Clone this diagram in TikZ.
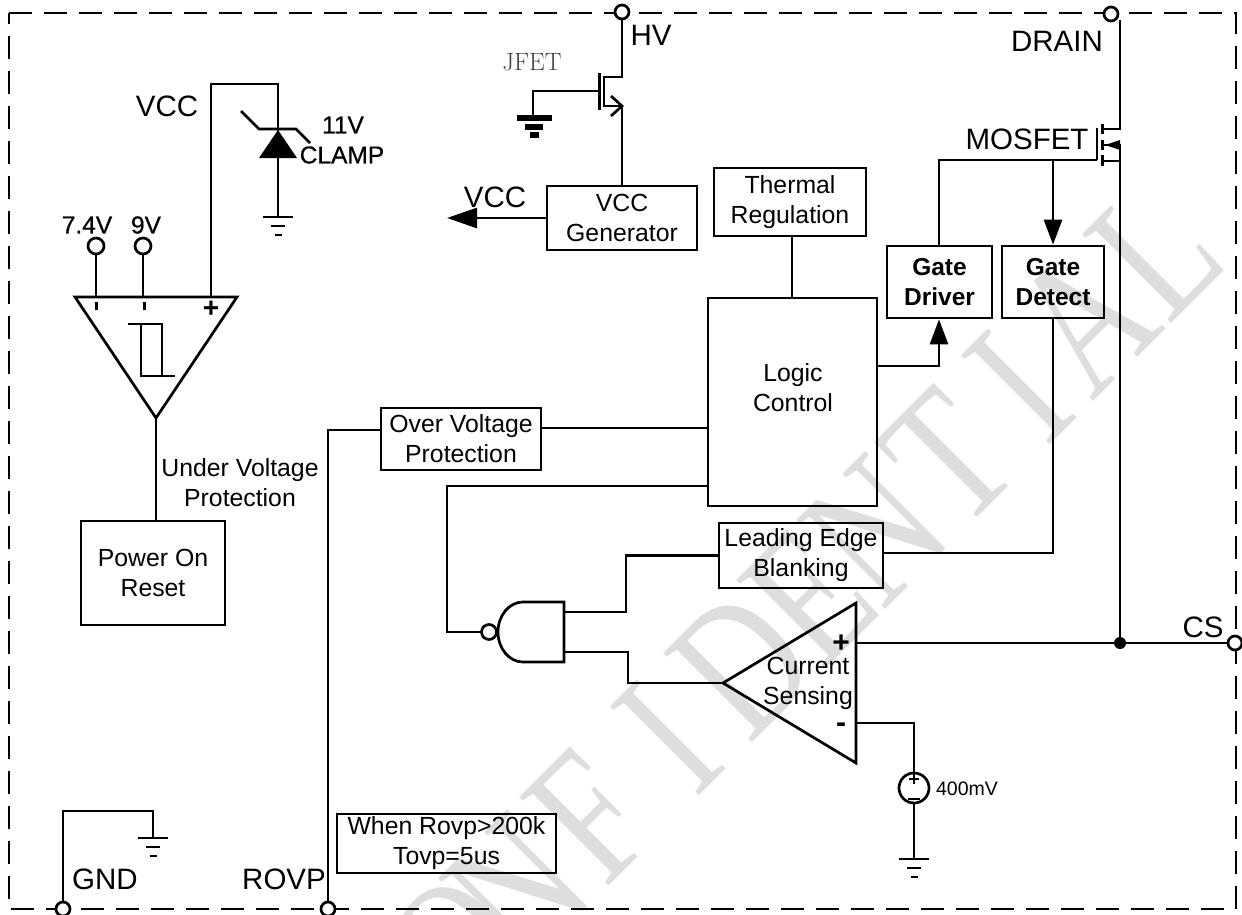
\documentclass[tikz,border=0pt]{standalone}
\usepackage{fontspec}
\setmainfont{Liberation Sans}
\newfontfamily\markfont{Liberation Serif}
\newfontfamily\lmfont{Latin Modern Roman}
\newfontfamily\halffont[FakeBold=0.6]{Liberation Sans}
\usetikzlibrary{arrows.meta}
\definecolor{markgray}{HTML}{DEDEDE}
\begin{document}
\begin{tikzpicture}[x=1pt, y=-1pt, line join=miter, line width=2.7pt, >={Triangle[length=25pt,width=18pt]},
	blockbox/.style={draw, align=center, inner sep=0pt, font=\fontsize{24.8}{30}\selectfont},
	boldbox/.style={blockbox, font=\fontsize{24.5}{30}\selectfont\bfseries},
	lbl/.style={inner sep=0pt, font=\fontsize{29.5}{32}\selectfont},
	halflbl/.style={inner sep=0pt, font=\halffont\fontsize{24.5}{30}\selectfont},
	midlbl/.style={inner sep=0pt, align=center, font=\fontsize{24.8}{30}\selectfont},
	marklbl/.style={text=markgray, anchor=base, rotate=45, xscale=.76, inner sep=0pt, font=\markfont\fontsize{192}{195}\selectfont},
	pin/.style={draw, circle, fill=white, inner sep=0pt, minimum size=14pt}]
	\useasboundingbox (0,0) rectangle (1242,915);
	% watermark
	\foreach \c/\u in {C/-450,O/-345,N/-262,F/-160,I/-49,D/55,E/150,N/243,T/347,I/447,A/540,L/640}
		\node[marklbl] (mark\u) at ({747.5+\u*.7071},{747.5-\u*.7071}) {\c};
	% frame
	\draw[dash pattern=on 23pt off 12pt] (9,13)--(1236,13)--(1236,909)--(9,909)--cycle;
	% blocks
	\node[blockbox, minimum width=144pt, minimum height=104pt] (por) at (153,573) {Power On\\Reset};
	\node[blockbox, minimum width=160pt, minimum height=62pt] (ovp) at (461,439) {Over Voltage\\Protection};
	\node[draw, minimum width=169pt, minimum height=208pt] (logic) at (792.5,402) {};
	\node[midlbl] (logict) at (793,388) {Logic\\Control};
	\node[blockbox, minimum width=152pt, minimum height=68pt] (thermal) at (790,202) {Thermal\\Regulation};
	\node[blockbox, minimum width=150pt, minimum height=64pt] (vccgen) at (622,218) {VCC\\Generator};
	\node[blockbox, minimum width=164pt, minimum height=65pt] (leb) at (801,555.5) {Leading Edge\\Blanking};
	\node[blockbox, minimum width=219pt, minimum height=59pt] (note) at (446.5,843.5) {When Rovp>200k\\Tovp=5us};
	\node[boldbox, minimum width=105pt, minimum height=72pt] (gdrv) at (939.5,282) {Gate\\Driver};
	\node[boldbox, minimum width=102pt, minimum height=72pt] (gdet) at (1053,282) {Gate\\Detect};
	% pins
	\node[pin] (hv) at (622,12) {};
	\node[pin] (drain) at (1111,14) {};
	\node[pin] (cs) at (1235,643) {};
	\node[pin] (gnd) at (63,909) {};
	\node[pin] (rovp) at (328,909) {};
	\node[pin, minimum size=16pt] (pa) at (96,246) {};
	\node[pin, minimum size=16pt] (pb) at (143,246) {};
	% pin labels
	\node[lbl] (hvl) at (651,35) {HV};
	\node[lbl] (drainl) at (1057,41) {DRAIN};
	\node[lbl] (mosl) at (1027,139) {MOSFET};
	\node[lbl] (csl) at (1203,627) {CS};
	\node[lbl] (gndl) at (105,879) {GND};
	\node[lbl] (rovpl) at (284,879) {ROVP};
	\node[lbl] (vccl) at (167,106) {VCC};
	\node[lbl] (vccr) at (495,197) {VCC};
	\node[inner sep=0pt, text=black!75, font=\fontsize{25}{30}\selectfont\lmfont] (jfetl) at (532,62) {JFET};
	\node[halflbl] (al) at (87,225) {7.4V};
	\node[halflbl] (bl) at (146,225) {9V};
	\node[halflbl] (zl) at (343,125) {11V};
	\node[halflbl] (cl) at (342,155) {CLAMP};
	\node[midlbl] (uvl) at (240,483) {Under Voltage\\Protection};
	\node[midlbl] (sensl) at (808,683) {Current\\Sensing};
	\node[inner sep=0pt, font=\fontsize{19.5}{22}\selectfont] (mvl) at (967,789) {400mV};
	% corners
	\coordinate (ca) at (75,297); \coordinate (cb) at (237,297); \coordinate (cc) at (156,418);
	\coordinate (sa) at (723,683); \coordinate (sb) at (856,603); \coordinate (sc) at (856,763);
	\coordinate (j1) at (1120,643);
	\coordinate (g1) at (278,217); \coordinate (g2) at (153,838); \coordinate (g3) at (914,859);
	% comparator
	\draw (ca)--(cb)--(cc)--cycle;
	\draw[line width=3pt] (96,302)--(96,310) (144,302)--(144,310);
	\node[inner sep=0pt, font=\fontsize{28}{28}\selectfont\bfseries] (cplus) at (211,309) {+};
	\draw[line width=2pt] (128,324)--(162,324)--(162,376)--(175,376) (141,324)--(141,376)--(162,376);
	\draw (pa)--(96,297) (pb)--(143,297);
	\draw (211,297)--(211,84)--(278,84)--(g1);
	\draw (cc)--(cc|-por.north);
	% zener
	\fill (278,130)--(297,158)--(259,158)--cycle;
	\draw (241,111)--(259,129)--(296,129)--(310,143);
	% current sense amp
	\draw (sa)--(sb)--(sc)--cycle;
	\node[inner sep=0pt, font=\fontsize{30}{30}\selectfont\bfseries] (splus) at (841,644) {+};
	\node[inner sep=0pt, font=\fontsize{30}{30}\selectfont\bfseries] (sminus) at (841,728) {-};
	\draw (sb|-cs)--(cs);
	\draw (856,723)--(914,723)--(g3);
	\fill (j1) circle (6pt);
	\node[draw, circle, fill=white, inner sep=0pt, minimum size=30pt] (vref) at (914,788) {};
	\draw[line width=2.4pt] (909,779)--(919,779) (914,774)--(914,784) (908,799)--(920,799);
	% nand
	\node[pin, minimum size=15pt] (bub) at (489,632) {};
	\draw (564,602)--(564,662)--(523,662) arc[start angle=90, end angle=270, x radius=25, y radius=30]--cycle;
	\draw (logic.west|-0,486)--(447,486)--(447,632)--(bub);
	\draw (564,612)--(626,612)--(626,555.5)--(leb);
	\draw (564,652)--(628,652)--(628,683)--(sa);
	% logic wiring
	\draw (rovp) |- (ovp.west|-0,430);
	\draw (ovp.east|-0,428)--(logic.west|-0,428);
	\draw (thermal.south-|792,0)--(logic.north-|792,0);
	\draw[->] (logic.east|-0,366)--(939,366)--(gdrv.south-|939,0);
	\draw (gdrv.north-|939,0)--(939,160)--(1097,160);
	\draw[->] (1053,160)--(gdet.north-|1053,0);
	\draw (gdet.south-|1053,0)--(1053,553)--(leb.east|-0,553);
	% mosfet
	\draw (1097,128)--(1097,160);
	\draw[line width=3pt] (1102,124)--(1102,134) (1102,140)--(1102,150) (1102,155)--(1102,166);
	\draw (1120,20)--(1120,129)--(1102,129) (1102,161)--(1120,161);
	\draw (1102,145)--(1120,145)--(j1);
	\fill (1105,145)--(1120,140)--(1120,150)--cycle;
	% jfet
	\draw (hv)--(622,77)--(604,77)--(604,106)--(622,106)--(vccgen.north-|622,0);
	\draw[line width=3pt] (599,73)--(599,110);
	\draw (611,96)--(622,106)--(611,116);
	\draw (599,91)--(533,91)--(533,118);
	\draw[line width=6pt] (517,118)--(552,118) (525,127)--(543,127) (530,135)--(539,135);
	% vcc arrow
	\draw[-{Triangle[length=30pt,width=20pt]}] (vccgen.west)--(447,218);
	% gnd pin
	\draw (gnd)--(63,811)--(153,811)--(g2);
	% grounds
	\foreach \p in {g1,g2,g3}{
		\draw ([xshift=-15pt]\p)--([xshift=15pt]\p);
		\draw ([xshift=-7pt,yshift=-9pt]\p)--([xshift=7pt,yshift=-9pt]\p);
		\draw ([xshift=-3.5pt,yshift=-18pt]\p)--([xshift=3.5pt,yshift=-18pt]\p);
	}
\end{tikzpicture}
\end{document}
